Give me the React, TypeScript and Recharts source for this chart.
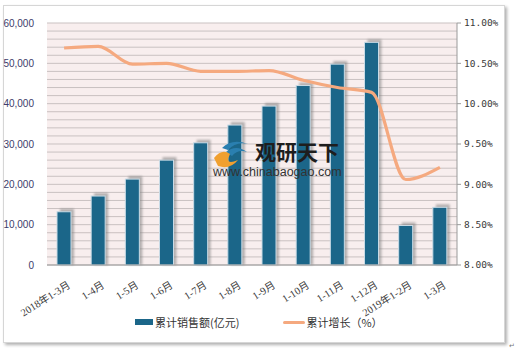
import { ComposedChart, Bar, Line, XAxis, YAxis, CartesianGrid } from "recharts";

const categories = [
  "2018年1-3月", "1-4月", "1-5月", "1-6月", "1-7月", "1-8月",
  "1-9月", "1-10月", "1-11月", "1-12月", "2019年1-2月", "1-3月",
];
// 累计销售额 (亿元)
const sales = [13200, 17100, 21300, 26000, 30300, 34700, 39400, 44500, 49800, 55200, 9800, 14300];
// 累计增长 (%)
const growth = [10.69, 10.71, 10.49, 10.5, 10.4, 10.4, 10.41, 10.29, 10.2, 10.14, 9.06, 9.21];

const leftTicks = Array.from({ length: 31 }, (_, i) => i * 2000);
const rightTicks = [8, 8.5, 9, 9.5, 10, 10.5, 11];

const data = categories.map((name, i) => ({ name, sales: sales[i], growth: growth[i] }));

const BAR = "#1b6689";
const LINE = "#f5a97f";

// bar with the soft grey drop shadow of the original
function ShadowBar(props: any) {
  const { x, y, width, height } = props;
  if (!height) return null;
  return (
    <g>
      <rect x={x + 3} y={y - 3} width={width} height={height + 3} fill="#7d7d7d" opacity={0.55} filter="url(#barBlur)" />
      <rect x={x} y={y} width={width} height={height} fill={BAR} stroke="#c9dbe6" strokeWidth={1} />
    </g>
  );
}

function XTick({ x, y, payload }: any) {
  return (
    <g transform={`translate(${x + 7},${y + 14})`}>
      <text
        textAnchor="end"
        transform="rotate(-32)"
        fontSize={10.5}
        fill="#3a3a3a"
        fontFamily='"Liberation Serif", "Noto Sans CJK SC", serif'
      >
        {payload.value}
      </text>
    </g>
  );
}

export default function App() {
  return (
    <div style={{ position: "fixed", left: 0, top: 0, width: 520, height: 356, background: "#fff" }}>
      {/* outer frame */}
      <div
        style={{
          position: "absolute",
          left: 3,
          top: 5,
          width: 500,
          height: 336,
          border: "1px solid #d6d6d6",
          boxShadow: "2px 2px 3px #b0b0b0",
        }}
      />
      <div style={{ position: "absolute", left: 0, top: 0 }}>
        <ComposedChart width={520} height={356} data={data} margin={{ top: 23, right: 0, left: 0, bottom: 31 }}>
          <defs>
            <filter id="barBlur" x="-50%" y="-10%" width="200%" height="120%">
              <feGaussianBlur stdDeviation="1.2" />
            </filter>
          </defs>
          <CartesianGrid
            yAxisId="left"
            vertical={false}
            stroke="#c9c1c1"
            fill="#f8eeee"
            fillOpacity={1}
          />
          <XAxis
            dataKey="name"
            interval={0}
            height={60}
            tickLine={false}
            axisLine={{ stroke: "#9a9a9a" }}
            tick={<XTick />}
          />
          <YAxis
            yAxisId="left"
            width={47}
            domain={[0, 60000]}
            ticks={leftTicks}
            interval={0}
            axisLine={false}
            tickLine={false}
            tickSize={6}
            tickMargin={7}
            tickFormatter={(v: number) => (v % 10000 === 0 ? v.toLocaleString("en-US") : "")}
            tick={{ fontSize: 10, fill: "#3c3c6a", fontFamily: '"Liberation Sans", sans-serif' }}
          />
          <YAxis
            yAxisId="right"
            orientation="right"
            width={63}
            domain={[8, 11]}
            ticks={rightTicks}
            interval={0}
            axisLine={{ stroke: "#9a9a9a" }}
            tickLine={{ stroke: "#9a9a9a" }}
            tickSize={4}
            tickMargin={3}
            tickFormatter={(v: number) => v.toFixed(2) + "%"}
            tick={{ fontSize: 9.5, fill: "#3a3a3a", fontFamily: '"DejaVu Sans Mono", monospace' }}
          />
          <Bar yAxisId="left" dataKey="sales" barSize={14} shape={<ShadowBar />} isAnimationActive={false} />
          <Line
            yAxisId="right"
            type="monotone"
            dataKey="growth"
            stroke={LINE}
            strokeWidth={3.2}
            dot={false}
            activeDot={false}
            isAnimationActive={false}
          />
        </ComposedChart>
      </div>

      {/* watermark */}
      <svg width={520} height={356} style={{ position: "absolute", left: 0, top: 0, pointerEvents: "none" }}>
        <path d="M222 148 Q232 138 248 144 Q236 141 228 150 Z" fill="#2a7fb0" />
        <path d="M226 152 Q236 144 247 152 Q238 149 232 156 Z" fill="#2a7fb0" />
        <path d="M214 158 Q222 148 230 154 Q224 166 238 160 Q230 170 218 166 Z" fill="#f0a030" />
        <text x={255} y={160} fontSize={21} fontWeight="bold" fill="#1e1e1e" fontFamily='"Noto Sans CJK SC", sans-serif'>
          观研天下
        </text>
        <text x={213} y={176} fontSize={12.5} fill="#333" fontFamily='"Liberation Sans", sans-serif'>
          www.chinabaogao.com
        </text>
        <text x={509} y={348} fontSize={7} fill="#777">↵</text>
      </svg>

      {/* legend */}
      <div
        style={{
          position: "absolute",
          top: 314,
          left: 135,
          display: "flex",
          alignItems: "center",
          fontSize: 11,
          color: "#333",
          fontFamily: '"Noto Sans CJK SC", sans-serif',
          lineHeight: "16px",
        }}
      >
        <span style={{ width: 18, height: 6, background: BAR, display: "inline-block", marginRight: 2 }} />
        <span>累计销售额(亿元)</span>
        <span style={{ width: 22, height: 3, background: LINE, display: "inline-block", marginLeft: 44, marginRight: 1, borderRadius: 2 }} />
        <span>累计增长（%）</span>
      </div>
    </div>
  );
}
